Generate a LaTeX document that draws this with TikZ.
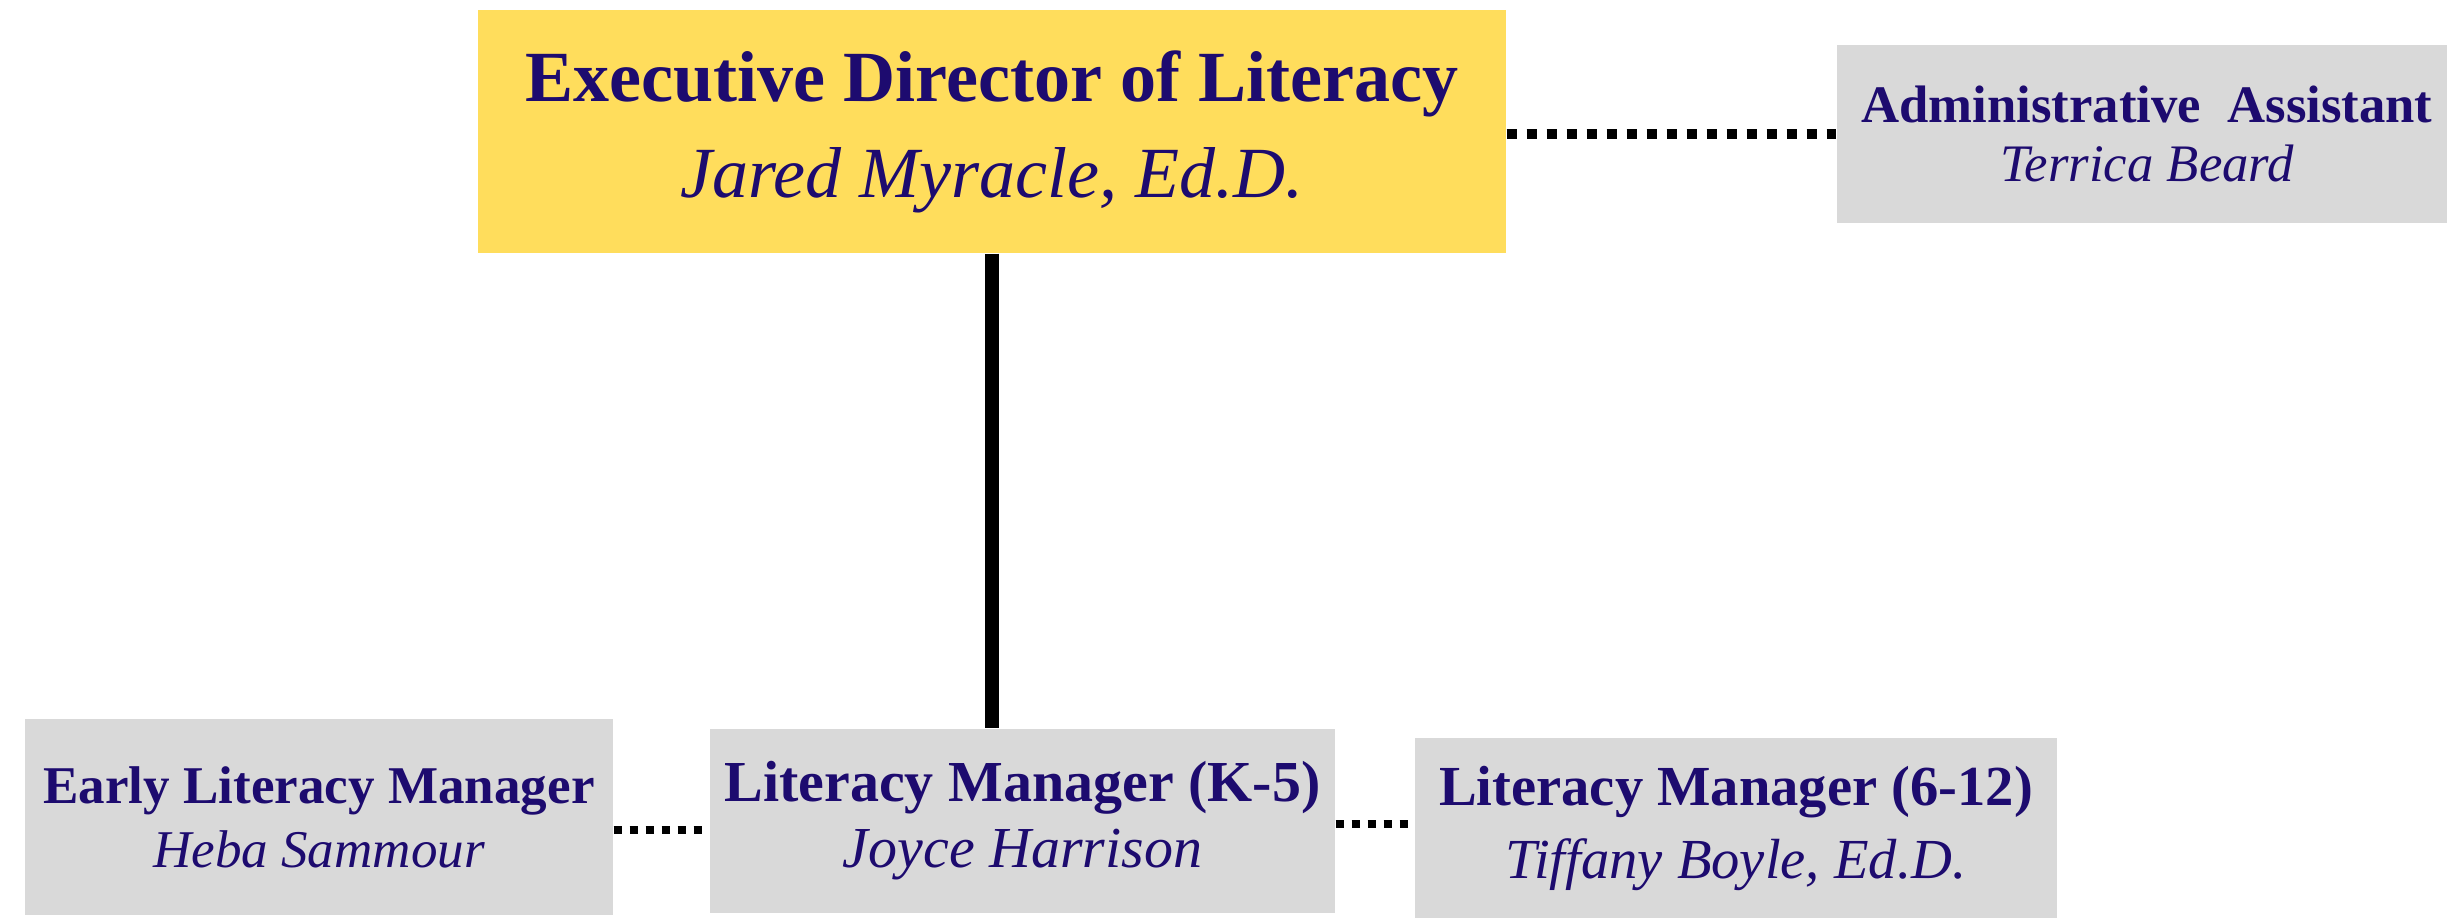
\documentclass[tikz,border=0pt]{standalone}
\usepackage{fontspec}
\setmainfont{Liberation Serif}
\usetikzlibrary{positioning}
\definecolor{execyellow}{HTML}{FFDD5C}
\definecolor{boxgray}{HTML}{D9D9D9}
\definecolor{inkpurple}{HTML}{1D0B6F}

\begin{document}
\begin{tikzpicture}[x=0.1mm,y=-0.1mm,
    rolebox/.style={fill=boxgray,text=inkpurple,align=center,inner sep=0pt},
    solidlink/.style={line width=1.4mm},
    dotlink/.style={line width=1mm,dash pattern=on 1mm off 1mm},
    smalldots/.style={line width=0.8mm,dash pattern=on 0.8mm off 0.8mm}]
  \useasboundingbox (0,0) rectangle (2447,918);
  % top row
  \node[rolebox,fill=execyellow,minimum width=102.8mm,minimum height=24.3mm,
        font=\fontsize{20.5}{27.3}\selectfont] (exec) at (992,131.5)
        {\bfseries Executive Director of Literacy\\ \itshape Jared Myracle, Ed.D.};
  \node[rolebox,minimum width=62mm,minimum height=17.8mm,
        font=\fontsize{15}{17}\selectfont] (admin) at (2147,134)
        {\bfseries Administrative\ \ Assistant\\ \itshape Terrica Beard};
  % bottom row
  \node[rolebox,minimum width=58.8mm,minimum height=19.6mm,
        font=\fontsize{15.1}{18.2}\selectfont] (early) at (319,817)
        {\bfseries Early Literacy Manager\\ \itshape Heba Sammour};
  \node[rolebox,minimum width=62.5mm,minimum height=18.4mm,
        font=\fontsize{16.5}{18.8}\selectfont] (k5) at (1022.5,821)
        {\bfseries Literacy Manager (K-5)\\ \itshape Joyce Harrison};
  \node[rolebox,minimum width=64.2mm,minimum height=18.1mm,
        font=\fontsize{16.1}{20.5}\selectfont] (g612) at (1736,828.5)
        {\bfseries Literacy Manager (6-12)\\ \itshape Tiffany Boyle, Ed.D.};
  % links
  \draw[solidlink] (exec.south) -- (exec.south |- k5.north);
  \draw[dotlink] (admin.west -| exec.east) -- (admin.west);
  \draw[smalldots] ([yshift=-0.9mm]k5.west -| early.east) -- ([yshift=-0.9mm]k5.west);
  \draw[smalldots] ([yshift=-0.3mm]k5.east) -- ([yshift=-0.3mm]k5.east -| g612.west);
\end{tikzpicture}
\end{document}
